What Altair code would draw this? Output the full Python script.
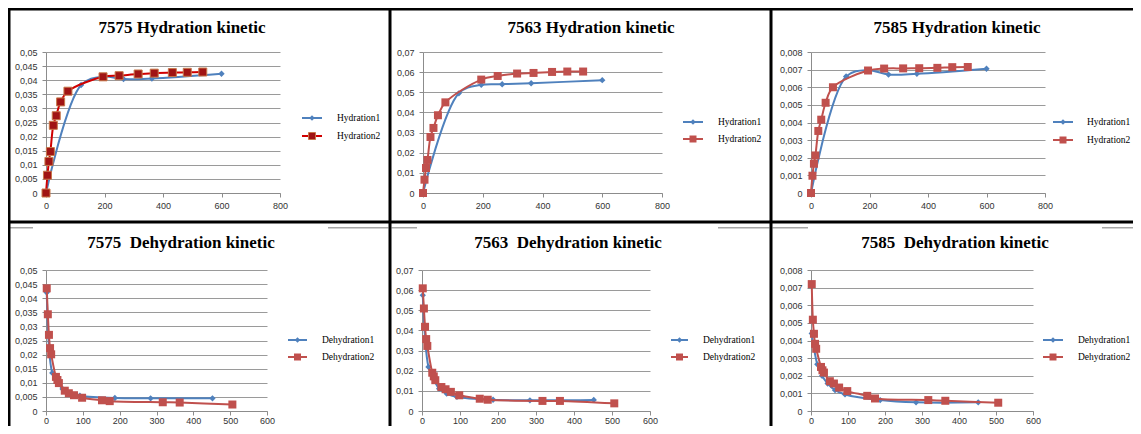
import altair as alt
import pandas as pd

# ---------------- data ----------------
H1_T = [0, 120, 195, 265, 362, 600]
H2_T = [0, 5, 10, 15, 25, 35, 50, 75, 195, 250, 315, 370, 432, 483, 536]

TL_H1 = [0, 0.0383, 0.0413, 0.0404, 0.0406, 0.0423]
TL_H2 = [0, 0.0063, 0.0112, 0.0147, 0.0240, 0.0274, 0.0323, 0.0361, 0.0412, 0.0416, 0.0422, 0.0425, 0.0427, 0.0428, 0.0429]

TM_H1 = [0, 0.0495, 0.0537, 0.0540, 0.0545, 0.0560]
TM_H2 = [0, 0.0066, 0.0124, 0.0164, 0.0278, 0.0323, 0.0386, 0.0450, 0.0563, 0.0581, 0.0593, 0.0596, 0.0601, 0.0603, 0.0603]

TR_H1 = [0, 0.00661, 0.00697, 0.00672, 0.00676, 0.00705]
TR_H2 = [0, 0.00098, 0.00166, 0.00213, 0.00352, 0.00416, 0.00512, 0.00600, 0.00695, 0.00706, 0.00707, 0.00708, 0.00710, 0.00714, 0.00715]

D1_T = [2, 17, 30, 45, 65, 92, 187, 284, 452]
D2_T = [2, 5, 8, 11, 14, 27, 31, 35, 51, 62, 76, 98, 152, 173, 317, 363, 506]

BL_D1 = [0.0420, 0.0135, 0.0106, 0.0078, 0.0062, 0.0054, 0.0046, 0.0045, 0.0045]
BL_D2 = [0.0435, 0.0343, 0.0270, 0.0223, 0.0201, 0.0121, 0.0110, 0.0099, 0.0072, 0.0063, 0.0056, 0.0047, 0.0038, 0.0035, 0.0031, 0.0030, 0.0023]

BM_D1 = [0.0575, 0.0219, 0.0160, 0.0111, 0.0086, 0.0070, 0.0056, 0.0053, 0.0055]
BM_D2 = [0.0609, 0.0509, 0.0418, 0.0357, 0.0323, 0.0190, 0.0172, 0.0153, 0.0119, 0.0108, 0.0095, 0.0078, 0.0061, 0.0056, 0.0050, 0.0050, 0.0038]

BR_D1 = [0.0044, 0.00265, 0.00200, 0.00156, 0.00118, 0.00094, 0.00062, 0.00049, 0.00049]
BR_D2 = [0.0072, 0.00518, 0.00438, 0.00381, 0.00353, 0.00250, 0.00231, 0.00218, 0.00169, 0.00156, 0.00133, 0.00113, 0.00086, 0.00071, 0.00062, 0.00058, 0.00047]

X_TOP = [0, 200, 400, 600, 800]
X_BOT = [0, 100, 200, 300, 400, 500, 600]
Y_05 = [0, 0.005, 0.01, 0.015, 0.02, 0.025, 0.03, 0.035, 0.04, 0.045, 0.05]
Y_07 = [0, 0.01, 0.02, 0.03, 0.04, 0.05, 0.06, 0.07]
Y_008 = [0, 0.001, 0.002, 0.003, 0.004, 0.005, 0.006, 0.007, 0.008]

TITLES = ["7575 Hydration kinetic", "7563 Hydration kinetic", "7585 Hydration kinetic",
          "7575\u00a0 Dehydration kinetic", "7563\u00a0 Dehydration kinetic", "7585\u00a0 Dehydration kinetic"]
HYD = ["Hydration1", "Hydration2"]
DEHYD = ["Dehydration1", "Dehydration2"]

BLUE = "#4F81BD"
RED = "#C0504D"

ONE = pd.DataFrame({"k": [0]})


def box(x1, x2, y1, y2, color, opacity=1):
    return alt.Chart(ONE).mark_rect(color=color, opacity=opacity).encode(
        x=alt.value(x1), x2=alt.value(x2), y=alt.value(y1), y2=alt.value(y2))


def panel(p):
    px, py, w, h = p["plot"]
    cl, ct, cr, cb = p["cell"]
    layers = [box(cl - px, cr - px, ct - py, cb - py, "white", 0)]
    for (x1, x2, y1, y2) in p.get("grey", []):
        layers.append(box(x1 - px, x2 - px, y1 - py, y2 - py, "#A6A6A6"))
    for (x1, x2, y1, y2) in p["bars"]:
        layers.append(box(x1 - px, x2 - px, y1 - py, y2 - py, "black"))

    X = alt.X("t:Q", scale=alt.Scale(domain=[0, p["xvals"][-1]], nice=False),
              axis=alt.Axis(values=p["xvals"], title=None, grid=False, format="d",
                            labelFlush=False, labelPadding=p["xpad"]))
    Y = alt.Y("v:Q", scale=alt.Scale(domain=[0, p["yvals"][-1]], nice=False),
              axis=alt.Axis(values=p["yvals"], title=None, grid=True, format="~g", labelFlush=False,
                            labelExpr="replace(datum.label, '.', ',')", labelPadding=5))

    d1 = pd.DataFrame({"t": p["t1"], "v": p["v1"]})
    d2 = pd.DataFrame({"t": p["t2"], "v": p["v2"]})
    layers.append(alt.Chart(d1).mark_line(color=BLUE, strokeWidth=2, interpolate="catmull-rom").encode(x=X, y=Y))
    layers.append(alt.Chart(d1).mark_point(shape="diamond", filled=True, size=40, color=BLUE, opacity=1).encode(x=X, y=Y))
    layers.append(alt.Chart(d2).mark_line(color=p["rline"], strokeWidth=2, interpolate="catmull-rom").encode(x=X, y=Y))
    layers.append(alt.Chart(d2).mark_point(shape="square", filled=True, size=64, fill=p["rfill"],
                                           stroke=p["rstroke"], strokeWidth=p["rsw"], opacity=1).encode(x=X, y=Y))

    tx, ty = p["title"]
    layers.append(alt.Chart(pd.DataFrame({"t": [p["name"]]})).mark_text(
        font="Liberation Serif", fontSize=17, fontWeight="bold", align="center",
        baseline="alphabetic", color="black").encode(
        text="t:N", x=alt.value(tx - px), y=alt.value(ty - py)))

    # legend (line + marker + label), Excel style
    sx1, sx2, r1, r2, lx = p["legend"]
    entries = [(p["series"][0], r1, BLUE, BLUE, "diamond", 30, BLUE, 0),
               (p["series"][1], r2, p["rline"], p["rfill"], "square", 49, p["rstroke"], p["rsw"])]
    for name, ry, lc, fc, shp, sz, sc, sw in entries:
        layers.append(alt.Chart(ONE).mark_rule(color=lc, strokeWidth=2).encode(
            x=alt.value(sx1 - px), x2=alt.value(sx2 - px), y=alt.value(ry - py)))
        layers.append(alt.Chart(ONE).mark_point(shape=shp, filled=True, size=sz, fill=fc, stroke=sc,
                                                strokeWidth=sw, opacity=1).encode(
            x=alt.value((sx1 + sx2) / 2 - px), y=alt.value(ry - py)))
        layers.append(alt.Chart(pd.DataFrame({"label": [name]})).mark_text(
            font="Liberation Serif", fontSize=9.5, align="left", baseline="middle", color="black").encode(
            text="label:N", x=alt.value(lx - px), y=alt.value(ry - py)))
    return alt.layer(*layers).properties(width=w, height=h)


C0, C1, C2, C3 = 8, 390, 771, 1133
R0, R1, R2 = 8, 222, 426

common_top = dict(xvals=X_TOP, t1=H1_T, t2=H2_T, series=HYD, xpad=4)
common_bot = dict(xvals=X_BOT, t1=D1_T, t2=D2_T, series=DEHYD, xpad=1)
red_std = dict(rline=RED, rfill=RED, rstroke=RED, rsw=0)

panels = [
    dict(name=TITLES[0], plot=(46, 52, 234, 141), cell=(C0, R0, C1, R1), yvals=Y_05, v1=TL_H1, v2=TL_H2,
         title=(182, 33), legend=(302, 322, 118, 136, 337),
         rline="#D00000", rfill="#A01414", rstroke="#C8784A", rsw=1,
         bars=[(C0, C1, R0, R0 + 2.5), (C0, C1, R1 - 1.5, R1), (C0, C0 + 2.5, R0, R1), (C1 - 1.5, C1, R0, R1)],
         **common_top),
    dict(name=TITLES[1], plot=(423, 52, 239, 141), cell=(C1, R0, C2, R1), yvals=Y_07, v1=TM_H1, v2=TM_H2,
         title=(591, 33), legend=(683, 703, 122, 139, 718),
         bars=[(C1, C2, R0, R0 + 2.5), (C1, C2, R1 - 1.5, R1), (C1, C1 + 1.5, R0, R1), (C2 - 1.5, C2, R0, R1)],
         **common_top, **red_std),
    dict(name=TITLES[2], plot=(811, 52, 234, 141), cell=(C2, R0, C3, R1), yvals=Y_008, v1=TR_H1, v2=TR_H2,
         title=(957, 33), legend=(1053, 1073, 122, 140, 1087),
         bars=[(C2, C3, R0, R0 + 2.5), (C2, C3, R1 - 1.5, R1), (C2, C2 + 1.5, R0, R1)],
         **common_top, **red_std),
    dict(name=TITLES[3], plot=(46, 270, 221, 141), cell=(C0, R1, C1, R2), yvals=Y_05, v1=BL_D1, v2=BL_D2,
         title=(181, 248), legend=(288, 307, 340, 357, 322),
         grey=[(10, 33, 227, 228.5), (328, C1 - 1.5, 227, 228.5)],
         bars=[(C0, C1, R1, R1 + 1.5), (C0, C0 + 2.5, R1, R2), (C1 - 1.5, C1, R1, R2)],
         **common_bot, **red_std),
    dict(name=TITLES[4], plot=(422, 270, 228, 141), cell=(C1, R1, C2, R2), yvals=Y_07, v1=BM_D1, v2=BM_D2,
         title=(568, 248), legend=(671, 688, 340, 357, 703),
         grey=[(C1 + 1.5, 417, 227, 228.5), (718, C2 - 1.5, 227, 228.5)],
         bars=[(C1, C2, R1, R1 + 1.5), (C1, C1 + 1.5, R1, R2), (C2 - 1.5, C2, R1, R2)],
         **common_bot, **red_std),
    dict(name=TITLES[5], plot=(811, 270, 222, 141), cell=(C2, R1, C3, R2), yvals=Y_008, v1=BR_D1, v2=BR_D2,
         title=(955, 248), legend=(1043, 1063, 340, 357, 1078),
         grey=[(C2 + 1.5, 808, 227, 228.5), (1102, C3, 227, 228.5)],
         bars=[(C2, C3, R1, R1 + 1.5), (C2, C2 + 1.5, R1, R2)],
         **common_bot, **red_std),
]

charts = [panel(p) for p in panels]

chart = alt.vconcat(alt.hconcat(*charts[:3], spacing=0), alt.hconcat(*charts[3:], spacing=0), spacing=0) \
    .properties(padding=0, background="white") \
    .configure_view(stroke=None) \
    .configure_axis(labelFont="Liberation Sans", labelFontSize=9, labelColor="#333333",
                    domainColor="#8C8C8C", tickColor="#8C8C8C", gridColor="#9A9A9A",
                    tickSize=4, domainWidth=1, gridWidth=1, tickWidth=1)

chart.save("out.html", embed_options={"renderer": "svg", "actions": False})
